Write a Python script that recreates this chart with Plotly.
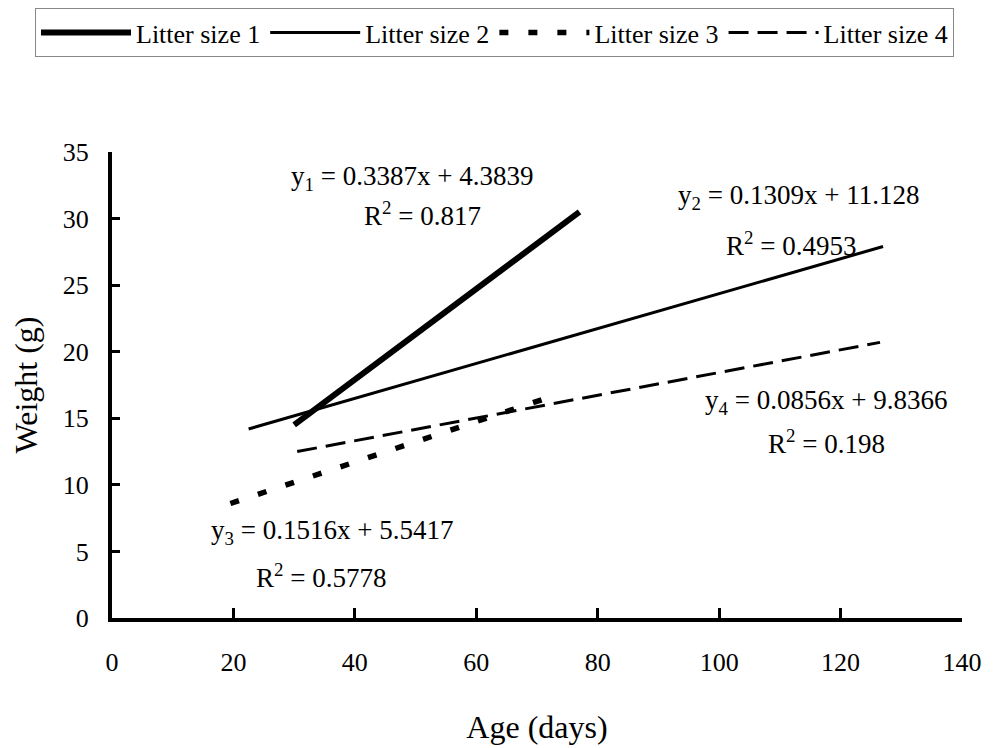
import plotly.graph_objects as go

# Data (endpoints of the fitted trend lines)
series_names = ["Litter size 1", "Litter size 2", "Litter size 3", "Litter size 4"]
age_1 = [30, 77]
weight_1 = [14.5, 30.5]
age_2 = [22.5, 127]
weight_2 = [14.2, 27.9]
age_3 = [19.5, 71.5]
weight_3 = [8.6, 16.5]
age_4 = [30.5, 126.5]
weight_4 = [12.5, 20.7]

x_ticks = [0, 20, 40, 60, 80, 100, 120, 140]
y_ticks = [0, 5, 10, 15, 20, 25, 30, 35]

eq_texts = [
    "y<sub>1</sub> = 0.3387x + 4.3839", "R<sup>2</sup> = 0.817",
    "y<sub>2</sub> = 0.1309x + 11.128", "R<sup>2</sup> = 0.4953",
    "y<sub>3</sub> = 0.1516x + 5.5417", "R<sup>2</sup> = 0.5778",
    "y<sub>4</sub> = 0.0856x + 9.8366", "R<sup>2</sup> = 0.198",
]

FONT = "Liberation Serif, Times New Roman, serif"

fig = go.Figure()
fig.add_trace(go.Scatter(x=age_1, y=weight_1, mode="lines", name=series_names[0],
                         line=dict(color="black", width=6)))
fig.add_trace(go.Scatter(x=age_2, y=weight_2, mode="lines", name=series_names[1],
                         line=dict(color="black", width=3)))
fig.add_trace(go.Scatter(x=age_3, y=weight_3, mode="lines", name=series_names[2],
                         line=dict(color="black", width=5.5, dash="9px,20px")))
fig.add_trace(go.Scatter(x=age_4, y=weight_4, mode="lines", name=series_names[3],
                         line=dict(color="black", width=3, dash="20px,9px")))

# page body adds an 8px offset; positions below are in figure pixels
W, H = 988, 740
L, R, T, B = 104, 34, 144, 130
pw, ph = W - L - R, H - T - B
ann = [
    (eq_texts[0], 404, 170), (eq_texts[1], 414, 206),
    (eq_texts[2], 790, 189), (eq_texts[3], 783, 236),
    (eq_texts[4], 324, 524), (eq_texts[5], 313, 568),
    (eq_texts[6], 818, 394), (eq_texts[7], 818, 434),
]
for txt, px, py in ann:
    fig.add_annotation(text=txt, x=(px - L) / pw, y=1 - (py - T) / ph,
                       xref="paper", yref="paper", showarrow=False,
                       xanchor="center", yanchor="middle",
                       font=dict(family=FONT, size=27, color="black"))

fig.update_layout(
    width=W, height=H,
    margin=dict(l=L, r=R, t=T, b=B, autoexpand=False),
    paper_bgcolor="white", plot_bgcolor="white",
    font=dict(family=FONT, size=26, color="black"),
    showlegend=True,
    legend=dict(orientation="h", xref="paper", yref="paper",
                x=(27 - L) / pw, y=1 + (T - 0) / ph, xanchor="left", yanchor="top",
                bordercolor="#888", borderwidth=1, bgcolor="white",
                font=dict(family=FONT, size=26), itemwidth=90,
                tracegroupgap=0),
    xaxis=dict(range=[0, 140], tickvals=x_ticks, showgrid=False, zeroline=False,
               showline=True, linecolor="black", linewidth=4,
               ticks="inside", ticklen=10, tickwidth=3, tickcolor="black",
               automargin=False, ticklabelstandoff=18,
               title=dict(text="Age (days)", standoff=40, font=dict(size=32)),
               tickfont=dict(size=26)),
    yaxis=dict(range=[0, 35], tickvals=y_ticks, showgrid=False, zeroline=False,
               showline=True, linecolor="black", linewidth=4,
               ticks="inside", ticklen=8, tickwidth=3, tickcolor="black",
               automargin=False, ticklabelstandoff=14,
               title=dict(text="Weight (g)", standoff=35, font=dict(size=32)),
               tickfont=dict(size=26)),
)

fig.write_html("out.html")
